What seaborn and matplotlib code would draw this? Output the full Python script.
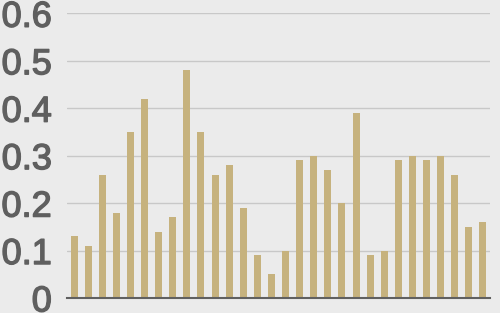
import matplotlib
matplotlib.use("Agg")
import matplotlib.pyplot as plt
import matplotlib.patheffects as pe
import seaborn as sns
import pandas as pd

categories = [f"c{i+1}" for i in range(30)]
values = [0.13, 0.11, 0.26, 0.18, 0.35, 0.42, 0.14, 0.17, 0.48, 0.35,
          0.26, 0.28, 0.19, 0.09, 0.05, 0.10, 0.29, 0.30, 0.27, 0.20,
          0.39, 0.09, 0.10, 0.29, 0.30, 0.29, 0.30, 0.26, 0.15, 0.16]
yticks = [0, 0.1, 0.2, 0.3, 0.4, 0.5, 0.6]
ytick_labels = ["0", "0.1", "0.2", "0.3", "0.4", "0.5", "0.6"]

df = pd.DataFrame({"cat": categories, "val": values})

sns.set_style("white")
plt.rcParams["font.family"] = ["Liberation Sans", "DejaVu Sans"]

bg = "#ebebeb"
lab = "#5f5f5f"
fig = plt.figure(figsize=(5, 3.13), dpi=100, facecolor=bg)
ax = fig.add_axes([0.134, 0.048, 0.846, 0.9095])
ax.set_facecolor(bg)

sns.barplot(data=df, x="cat", y="val", color="#c6b27e", width=0.5,
            saturation=1, linewidth=0, ax=ax, zorder=3)

ax.set_ylim(0, 0.6)
ax.set_xlim(-0.5, len(values) - 0.5)
ax.set_yticks(yticks)
ax.set_yticklabels(ytick_labels, fontsize=26, color=lab)
for t in ax.get_yticklabels():
    t.set_path_effects([pe.withStroke(linewidth=1.0, foreground=lab)])
ax.tick_params(axis="y", length=0, pad=11)
ax.set_xticks([])
ax.set_xlabel("")
ax.set_ylabel("")
ax.yaxis.grid(True, color="#c8c8c8", linewidth=1.0, zorder=0)
ax.set_axisbelow(True)
for s in ["top", "right", "left"]:
    ax.spines[s].set_visible(False)
ax.spines["bottom"].set_color("#606060")
ax.spines["bottom"].set_linewidth(1.5)
ax.spines["bottom"].set_zorder(5)

fig.savefig("out.png", dpi=100, facecolor=bg)
